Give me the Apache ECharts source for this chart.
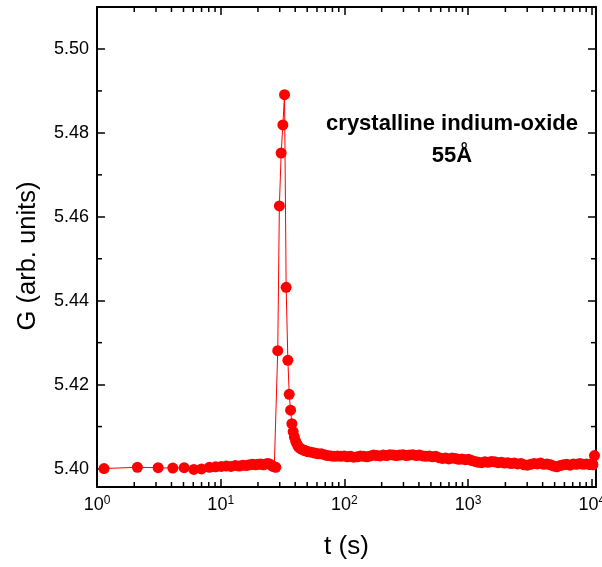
<!DOCTYPE html>
<html>
<head>
<meta charset="utf-8">
<script src="https://cdn.jsdelivr.net/npm/echarts@6/dist/echarts.min.js"></script>
<style>
html,body{margin:0;padding:0;background:#fff;}
#chart{width:602px;height:567px;}
</style>
</head>
<body>
<div id="chart"></div>
<script>
// time (s)
const tValues = [
  1.14, 2.12, 3.12, 4.1, 5.06, 6.06, 7.0,
  8.1, 9.1, 10.1, 11.1, 12.1, 13.1, 14.1, 15.1, 16.1, 17.1, 18.1, 19.1, 20.1,
  21.1, 22.1, 23.1, 24.1, 25.1, 26.1, 27.1, 27.9,
  28.9, 29.8, 30.8, 31.8, 32.8, 33.8, 34.9, 35.8, 36.7, 37.6,
  38.5, 39.4, 40.4, 41.4, 42.4, 43.4, 44.5, 46, 47.5, 49, 51, 54, 57.5, 61, 65, 69, 73, 78, 83, 88, 93.5, 99.5,
  106, 112, 119, 127, 135, 143, 152, 162, 172, 183, 194, 206, 219, 233, 248, 263, 280, 297, 316, 336, 357, 380,
  403, 429, 456, 485, 515, 547, 582, 618, 657, 698, 742, 789, 838, 891, 947,
  1006, 1070, 1137, 1208, 1284, 1365, 1451, 1542, 1639, 1742, 1851, 1968, 2091, 2223, 2362, 2511, 2669, 2836,
  3015, 3204, 3405, 3620, 3847, 4089, 4346, 4619, 4909, 5218, 5546, 5894, 6265, 6658, 7077, 7522, 7994, 8497,
  9031, 9598, 10200, 10500
];
// G (arb. units)
const gValues = [
  5.4000, 5.4003, 5.4002, 5.4001, 5.4002, 5.3998, 5.3999,
  5.4003, 5.4004, 5.4005, 5.4006, 5.4005, 5.4007, 5.4006, 5.4008, 5.4007, 5.4009, 5.4010, 5.4009, 5.4010,
  5.4011, 5.4009, 5.4011, 5.4012, 5.4010, 5.4006, 5.4004, 5.4003,
  5.4281, 5.4626, 5.4752, 5.4819, 5.4891, 5.4432, 5.4258, 5.4177, 5.4139, 5.4107,
  5.4088, 5.4075, 5.4065, 5.4058, 5.4052, 5.4049, 5.4047, 5.4045, 5.4043, 5.4042, 5.4040, 5.4039, 5.4037, 5.4035, 5.4035, 5.4033, 5.4031, 5.4030, 5.4029, 5.4030, 5.4029, 5.4030,
  5.4028, 5.4029, 5.4027, 5.4028, 5.4030, 5.4029, 5.4028, 5.4030, 5.4032, 5.4031, 5.4030, 5.4032, 5.4031, 5.4033, 5.4032, 5.4031, 5.4032, 5.4033, 5.4031, 5.4032, 5.4033, 5.4031,
  5.4032, 5.4030, 5.4029, 5.4030, 5.4028, 5.4029, 5.4026, 5.4024, 5.4025, 5.4023, 5.4025, 5.4024, 5.4022, 5.4023, 5.4021,
  5.4022, 5.4019, 5.4017, 5.4015, 5.4014, 5.4016, 5.4015, 5.4017, 5.4016, 5.4014, 5.4015, 5.4013, 5.4014, 5.4012, 5.4013, 5.4011, 5.4012, 5.4009,
  5.4008, 5.4010, 5.4012, 5.4011, 5.4013, 5.4010, 5.4011, 5.4009, 5.4006, 5.4004, 5.4007, 5.4009, 5.4010, 5.4008, 5.4011, 5.4010, 5.4012, 5.4010,
  5.4011, 5.4010, 5.4009, 5.4031
];
// axis ranges and ticks
const xMin = 1, xMax = 10800;
const yMin = 5.3956, yMax = 5.5100;
const xMinorTicks = [2,3,4,5,6,7,8,9, 20,30,40,50,60,70,80,90, 200,300,400,500,600,700,800,900, 2000,3000,4000,5000,6000,7000,8000,9000];
const yMinorTicks = [5.41, 5.43, 5.45, 5.47, 5.49];
const xAxisTitle = 't (s)';
const yAxisTitle = 'G (arb. units)';
const noteLines = ['crystalline indium-oxide', '55Å'];

const FONT = '"Liberation Sans", Arial, Helvetica, sans-serif';
const chart = echarts.init(document.getElementById('chart'), null, {renderer: 'canvas'});

const seriesData = tValues.map((t, i) => [t, gValues[i]]);

const lineCommon = {show: true, onZero: false, lineStyle: {color: '#000', width: 2}};
const tickCommon = {show: true, inside: true, length: 8, lineStyle: {color: '#000', width: 1.5}};

function isPow10(v) {
  const e = Math.log10(v);
  return Math.abs(e - Math.round(e)) < 1e-6;
}

const option = {
  animation: false,
  backgroundColor: '#fff',
  grid: {left: 97, right: 6, top: 7, bottom: 80, containLabel: false, outerBoundsMode: 'none'},
  xAxis: [
    {
      type: 'log', logBase: 10, min: xMin, max: xMax, position: 'bottom',
      axisLine: lineCommon, axisTick: tickCommon, splitLine: {show: false},
      name: xAxisTitle, nameLocation: 'middle', nameGap: 47,
      nameTextStyle: {fontFamily: FONT, fontSize: 26, color: '#000'},
      axisLabel: {
        show: true, margin: 8, color: '#000', fontFamily: FONT, fontSize: 18,
        showMinLabel: true, showMaxLabel: false,
        formatter: v => isPow10(v) ? '10{sup|' + Math.round(Math.log10(v)) + '}' : '',
        rich: {sup: {fontSize: 12, fontFamily: FONT, color: '#000', verticalAlign: 'top', padding: [0, 0, 8, 0]}}
      }
    },
    {
      type: 'log', logBase: 10, min: xMin, max: xMax, position: 'top',
      axisLine: lineCommon, axisTick: tickCommon, splitLine: {show: false},
      axisLabel: {show: false}
    }
  ],
  yAxis: [
    {
      type: 'value', min: yMin, max: yMax, splitNumber: 5, position: 'left',
      axisLine: lineCommon, axisTick: tickCommon, splitLine: {show: false},
      name: yAxisTitle, nameLocation: 'middle', nameGap: 56, nameRotate: 90,
      nameTextStyle: {fontFamily: FONT, fontSize: 25.5, color: '#000', padding: [0, 18, 0, 0]},
      axisLabel: {
        show: true, margin: 8, color: '#000', fontFamily: FONT, fontSize: 18,
        showMinLabel: false, showMaxLabel: false,
        formatter: v => v.toFixed(2)
      }
    },
    {
      type: 'value', min: yMin, max: yMax, splitNumber: 5, position: 'right',
      axisLine: lineCommon, axisTick: tickCommon, splitLine: {show: false},
      axisLabel: {show: false}
    }
  ],
  graphic: [
    {type: 'text', x: 452, y: 124, style: {text: noteLines[0], font: 'bold 22px ' + FONT, fill: '#000', textAlign: 'center', textVerticalAlign: 'middle'}},
    {type: 'text', x: 452, y: 156, style: {text: noteLines[1], font: 'bold 22px ' + FONT, fill: '#000', textAlign: 'center', textVerticalAlign: 'middle'}}
  ],
  series: [
    {
      type: 'custom', xAxisIndex: 0, yAxisIndex: 0, silent: true, clip: false, z: 5,
      data: xMinorTicks.map(v => [v, yMin]),
      renderItem: (params, api) => {
        const v = api.value(0);
        const b = api.coord([v, yMin]);
        const t = api.coord([v, yMax]);
        const st = {stroke: '#000', lineWidth: 1.5};
        return {type: 'group', children: [
          {type: 'line', shape: {x1: b[0], y1: b[1], x2: b[0], y2: b[1] - 5}, style: st},
          {type: 'line', shape: {x1: t[0], y1: t[1], x2: t[0], y2: t[1] + 5}, style: st}
        ]};
      }
    },
    {
      type: 'custom', xAxisIndex: 0, yAxisIndex: 0, silent: true, clip: false, z: 5,
      data: yMinorTicks.map(v => [xMin, v]),
      renderItem: (params, api) => {
        const v = api.value(1);
        const l = api.coord([xMin, v]);
        const r = api.coord([xMax, v]);
        const st = {stroke: '#000', lineWidth: 1.5};
        return {type: 'group', children: [
          {type: 'line', shape: {x1: l[0], y1: l[1], x2: l[0] + 5, y2: l[1]}, style: st},
          {type: 'line', shape: {x1: r[0], y1: r[1], x2: r[0] - 5, y2: r[1]}, style: st}
        ]};
      }
    },
    {
      type: 'line', xAxisIndex: 0, yAxisIndex: 0,
      data: seriesData,
      symbol: 'circle', symbolSize: 11, showAllSymbol: true, clip: false,
      itemStyle: {color: '#ff0000', borderWidth: 0},
      lineStyle: {color: '#ff0000', width: 1},
      z: 3
    }
  ]
};
chart.setOption(option);
</script>
</body>
</html>
